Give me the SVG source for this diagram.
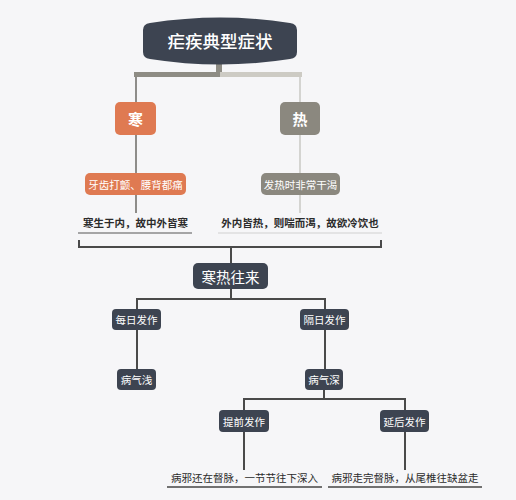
<svg xmlns="http://www.w3.org/2000/svg" width="516" height="500" viewBox="0 0 516 500">
<style>
text{font-family:"Noto Sans CJK SC","Noto Sans",sans-serif;text-anchor:middle;dominant-baseline:central}
.w{fill:#ffffff}
.dk{fill:#3d4451}
.or{fill:#df7a52}
.gr{fill:#8b887f}
.t{fill:#2b2b2b;font-size:10.5px;font-weight:bold}
.ln{fill:none;stroke:#4a4a4a;stroke-width:2}
</style>
<rect width="516" height="500" fill="#f6f6f8"/>
<g id="connectors">
<rect x="216" y="62" width="6" height="12" fill="#8e8c84"/>
<rect x="134" y="72" width="86" height="5" fill="#8e8c84"/>
<rect x="220" y="72" width="82" height="5" fill="#cdcbc4"/>
<line x1="136" y1="77" x2="136" y2="213" stroke="#6b6a66" stroke-width="1.5"/>
<line x1="300" y1="77" x2="300" y2="213" stroke="#c9c8c4" stroke-width="1.5"/>
<line x1="78" y1="233" x2="192" y2="233" stroke="#555" stroke-width="1.2"/>
<line x1="218" y1="233" x2="382" y2="233" stroke="#cfcfcf" stroke-width="1.2"/>
<path class="ln" d="M79 240 V247 H381 V240 M231 247 V263"/>
<path class="ln" d="M231 289 V299 M137 309 V299 H325 V309"/>
<path class="ln" d="M137 330 V369 M325 330 V369"/>
<path class="ln" d="M324 390 V399 M244 410 V399 H405 V410"/>
<path class="ln" d="M244 432 V470 M405 432 V470"/>
<line x1="167" y1="487" x2="322" y2="487" stroke="#444" stroke-width="1.5"/>
<line x1="328" y1="487" x2="482" y2="487" stroke="#444" stroke-width="1.5"/>
</g>
<g id="title">
<path class="dk" d="M143 30 Q143 24 150 23 Q220 12 290 23 Q297 24 297 30 L297 52 Q297 58 290 59 Q220 70 150 59 Q143 58 143 52 Z"/>
<text class="w" x="220" y="40" font-size="17.5" font-weight="500">疟疾典型症状</text>
</g>
<g id="han">
<rect class="or" x="115" y="102" width="41" height="33" rx="5"/>
<text class="w" x="135.5" y="118.5" font-size="15" font-weight="bold">寒</text>
</g>
<g id="re">
<rect class="gr" x="280" y="102" width="40" height="33" rx="5"/>
<text class="w" x="300" y="118.5" font-size="15" font-weight="bold">热</text>
</g>
<g id="han-symptom">
<rect class="or" x="85" y="173" width="101" height="22" rx="5"/>
<text class="w" x="135.5" y="184" font-size="10.5">牙齿打颤、腰背都痛</text>
</g>
<g id="re-symptom">
<rect class="gr" x="261" y="173" width="79" height="22" rx="5"/>
<text class="w" x="300.5" y="184" font-size="10.5">发热时非常干渴</text>
</g>
<g id="han-note">
<text class="t" x="135.5" y="222">寒生于内，故中外皆寒</text>
</g>
<g id="re-note">
<text class="t" x="300" y="222">外内皆热，则喘而渴，故欲冷饮也</text>
</g>
<g id="hanre">
<rect class="dk" x="193" y="263" width="75" height="26" rx="5"/>
<text class="w" x="230.5" y="276" font-size="14.5">寒热往来</text>
</g>
<g id="meiri">
<rect class="dk" x="112" y="309" width="49" height="21" rx="4"/>
<text class="w" x="136.5" y="319.5" font-size="10.5">每日发作</text>
</g>
<g id="geri">
<rect class="dk" x="300" y="309" width="49" height="21" rx="4"/>
<text class="w" x="324.5" y="319.5" font-size="10.5">隔日发作</text>
</g>
<g id="qian">
<rect class="dk" x="117" y="369" width="39" height="21" rx="4"/>
<text class="w" x="136.5" y="379.5" font-size="10.5">病气浅</text>
</g>
<g id="shen">
<rect class="dk" x="305" y="369" width="38" height="21" rx="4"/>
<text class="w" x="324" y="379.5" font-size="10.5">病气深</text>
</g>
<g id="tiqian">
<rect class="dk" x="219" y="410" width="50" height="22" rx="4"/>
<text class="w" x="244" y="421" font-size="10.5">提前发作</text>
</g>
<g id="yanhou">
<rect class="dk" x="380" y="410" width="49" height="22" rx="4"/>
<text class="w" x="404.5" y="421" font-size="10.5">延后发作</text>
</g>
<g id="tiqian-note">
<text x="244.5" y="477" font-size="10.5" fill="#2b2b2b">病邪还在督脉，一节节往下深入</text>
</g>
<g id="yanhou-note">
<text x="405" y="477" font-size="10.5" fill="#2b2b2b">病邪走完督脉，从尾椎往缺盆走</text>
</g>
</svg>
